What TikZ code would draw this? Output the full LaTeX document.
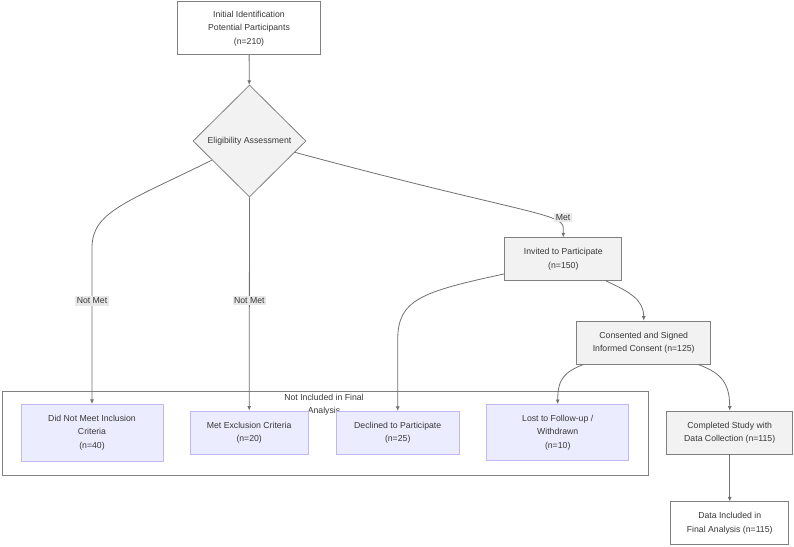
\documentclass[tikz,border=0pt]{standalone}
\usepackage{fontspec}
\setmainfont{Liberation Sans}
\usetikzlibrary{shapes.geometric,arrows.meta}
\definecolor{edgegray}{HTML}{707070}
\definecolor{boxgray}{HTML}{808080}
\definecolor{boxfill}{HTML}{F2F2F2}
\definecolor{purfill}{HTML}{ECECFF}
\definecolor{purline}{HTML}{C5B6F3}
\definecolor{lblfill}{HTML}{E8E8E8}
\definecolor{txt}{HTML}{383838}
\begin{document}
\begin{tikzpicture}[x=1pt,y=-1pt,
	every node/.style={font=\fontsize{8.7}{13.5}\selectfont,text=txt,align=center,inner sep=0pt},
	box/.style={draw=boxgray,fill=boxfill,line width=0.8pt,minimum height=43},
	excl/.style={draw=purline,fill=purfill,line width=0.8pt},
	edge/.style={draw=edgegray,line width=0.8pt,-{Latex[length=4.5pt,width=4pt]}},
	lbl/.style={fill=lblfill,inner sep=1.5pt}]
	\useasboundingbox (0,0) rectangle (794,546);
	\node[box,fill=white,minimum width=143,minimum height=53] (init) at (249,28.3) {Initial Identification\\Potential Participants\\(n=210)};
	\node[diamond,draw=boxgray,fill=boxfill,line width=0.8pt,minimum width=113,minimum height=112] (elig) at (249.5,141) {Eligibility Assessment};
	\node[box,minimum width=117] (invited) at (563.3,259.2) {Invited to Participate\\(n=150)};
	\node[box,minimum width=134] (consent) at (643.7,342.5) {Consented and Signed\\Informed Consent (n=125)};
	\node[draw=boxgray,fill=white,line width=0.8pt,minimum width=646,minimum height=84] (grp) at (325,433) {};
	\node (grplbl) at (324,404.5) {Not Included in Final\\Analysis};
	\foreach \n/\x/\w/\h/\t in {dnm/92/142/56.7/{Did Not Meet Inclusion\\Criteria\\(n=40)},
		mec/249.2/118.3/43.3/{Met Exclusion Criteria\\(n=20)},
		decl/397.7/123.3/42.6/{Declined to Participate\\(n=25)},
		lost/557.7/142/56.4/{Lost to Follow-up /\\Withdrawn\\(n=10)}} {
		\node[excl,minimum width=\w,minimum height=\h] (\n) at (\x,432.6) {\t};
	}
	\node[box,minimum width=126] (compl) at (729.7,432.5) {Completed Study with\\Data Collection (n=115)};
	\node[box,fill=white,minimum width=118,minimum height=42.3] (incl) at (729.7,523) {Data Included in\\Final Analysis (n=115)};
	\draw[edge] (init) -- (elig);
	\draw[edge] (elig.207) .. controls (125,203) and (dnm.north |- 0,212) .. (dnm.north |- 0,248) -- (dnm.north) node[lbl,pos=0.34] (nm1) {Not Met};
	\draw[edge] (elig.south) -- (mec.north) node[lbl,pos=0.485] (nm2) {Not Met};
	\draw[edge] (elig.346) .. controls (520,213) and (invited.north |- 0,213) .. (invited.north |- 0,228) -- (invited.north);
	\node[lbl] (met) at (563,217.7) {Met};
	\draw[edge] (invited.194) .. controls (420,292) and (decl.north |- 0,300) .. (decl.north |- 0,340) -- (decl.north);
	\draw[edge] (invited.333) .. controls (630,292) and (consent.north |- 0,300) .. (consent.north);
	\draw[edge] (consent.200) .. controls (565,372) and (lost.north |- 0,378) .. (lost.north);
	\draw[edge] (consent.338) .. controls (718,372) and (compl.north |- 0,380) .. (compl.north);
	\draw[edge] (compl) -- (incl);
\end{tikzpicture}
\end{document}
